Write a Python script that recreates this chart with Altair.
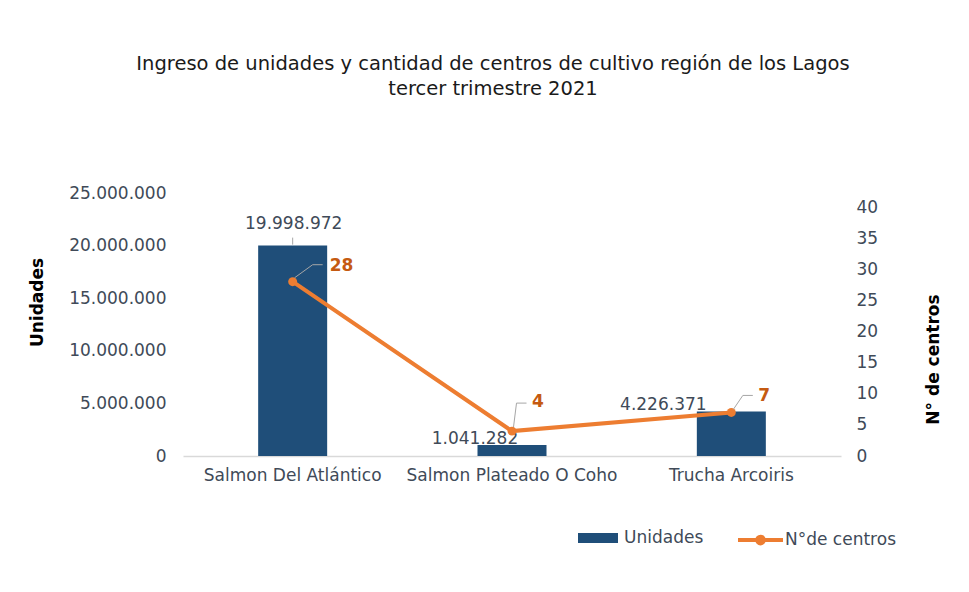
import altair as alt
import pandas as pd

# ---- data ----
especies = ["Salmon Del Atlántico", "Salmon Plateado O Coho", "Trucha Arcoiris"]
unidades = [19998972, 1041282, 4226371]
unidades_txt = ["19.998.972", "1.041.282", "4.226.371"]
centros = [28, 4, 7]
left_ticks = [0, 5000000, 10000000, 15000000, 20000000, 25000000]
right_ticks = [0, 5, 10, 15, 20, 25, 30, 35, 40]
titulo = ["Ingreso de unidades y cantidad de centros de cultivo región de los Lagos",
          "tercer trimestre 2021"]

df = pd.DataFrame({
    "especie": especies,
    "unidades": unidades,
    "u_txt": unidades_txt,
    "centros": centros,
    "serie_u": ["Unidades"] * 3,
    "serie_c": ["N°de centros"] * 3,
})

# ---- styles ----
FONT = "DejaVu Sans"
BLUE = "#1F4E79"
ORANGE = "#ED7D31"
ORANGE_TXT = "#C55A11"
TXT = "#404A58"
LEADER = "#A6A6A6"

# label placement (pixel offsets, style only)
bar_lab_off = {especies[0]: (1, -22), especies[1]: (-37, -6), especies[2]: (-68, -7)}
cen_lab_off = {especies[0]: (37, -16), especies[1]: (20, -29), especies[2]: (27, -16)}
cen_leaders = {
    especies[0]: [(2, -4), (20, -17), (30, -17)],
    especies[1]: [(1.5, -4), (4.5, -28), (14.5, -28)],
    especies[2]: [(2, -3), (11.5, -17), (21.5, -17)],
}

base = alt.Chart(df)
x_enc = alt.X("especie:N", sort=especies, bandPosition=0.5,
              scale=alt.Scale(paddingInner=0, paddingOuter=0),
              axis=alt.Axis(title=None, labelAngle=0, labelFontSize=17, labelFont=FONT,
                            labelColor=TXT, labelPadding=11, ticks=False, labelLimit=0,
                            domain=True, domainColor="#D9D9D9", domainWidth=1.5, grid=False))
x2_enc = alt.X2("especie", bandPosition=0.5)

yL = alt.Y("unidades:Q",
           scale=alt.Scale(domain=[0, 25000000], nice=False, zero=True),
           axis=alt.Axis(values=left_ticks, title="Unidades", orient="left",
                         labelExpr="replace(format(datum.value, ','), regexp(',', 'g'), '.')",
                         labelFontSize=17, labelFont=FONT, labelColor=TXT, labelPadding=17,
                         labelOverlap=False, labelLimit=0,
                         ticks=False, domain=False, grid=False,
                         titleFont=FONT, titleFontSize=17, titleFontWeight="bold", titleColor="#000000",
                         titleAngle=270, titleAlign="center", titleBaseline="middle",
                         titleX=-146, titleY=109))

yR = alt.Y("centros:Q",
           scale=alt.Scale(domain=[0, 42.25], nice=False, zero=True),
           axis=alt.Axis(values=right_ticks, title="N° de centros", orient="right",
                         labelFontSize=17, labelFont=FONT, labelColor=TXT, labelPadding=15,
                         labelOverlap=False, labelLimit=0,
                         ticks=False, domain=False, grid=False,
                         titleFont=FONT, titleFontSize=17, titleFontWeight="bold", titleColor="#000000",
                         titleAngle=270, titleAlign="center", titleBaseline="middle",
                         titleX=92, titleY=166))

bars = base.mark_bar(size=69).encode(
    x=x_enc, y=yL,
    fill=alt.Fill("serie_u:N", scale=alt.Scale(range=[BLUE]),
                  legend=alt.Legend(title=None, orient="none", legendX=395, legendY=325,
                                    symbolType="M-1,-0.25H1V0.25H-1Z", symbolSize=1600,
                                    symbolStrokeWidth=0, labelOffset=6, padding=0,
                                    labelFont=FONT, labelFontSize=17, labelColor=TXT)),
)

left_layers = [bars]
for cat in especies:
    dx, dy = bar_lab_off[cat]
    left_layers.append(
        base.transform_filter(alt.datum.especie == cat)
        .mark_text(font=FONT, fontSize=17, color=TXT, align="center", baseline="middle", dx=dx, dy=dy)
        .encode(x=x_enc, y=yL, text="u_txt:N")
    )
# small leader above first bar
left_layers.append(
    base.transform_filter(alt.datum.especie == especies[0])
    .mark_rule(color=LEADER, strokeWidth=1, yOffset=-8, y2Offset=-1)
    .encode(x=x_enc, x2=x2_enc, y=yL, y2=alt.Y2("unidades"))
)

line = base.mark_line(strokeWidth=4, color=ORANGE).encode(
    x=x_enc, y=yR,
    stroke=alt.Stroke("serie_c:N", scale=alt.Scale(range=[ORANGE]),
                      legend=alt.Legend(title=None, orient="none", legendX=553, legendY=322.5,
                                        symbolType="M-1,0H1M-0.15,0A0.15,0.15,0,1,1,0.15,0A0.15,0.15,0,1,1,-0.15,0Z",
                                        symbolSize=2025, symbolStrokeWidth=4,
                                        symbolFillColor=ORANGE, labelOffset=0, padding=0,
                                        labelFont=FONT, labelFontSize=17, labelColor=TXT)),
)
points = base.mark_circle(size=80, color=ORANGE, opacity=1).encode(x=x_enc, y=yR)

right_layers = [line, points]
for cat in especies:
    pts = cen_leaders[cat]
    for (ax, ay), (bx, by) in zip(pts[:-1], pts[1:]):
        right_layers.append(
            base.transform_filter(alt.datum.especie == cat)
            .mark_rule(color=LEADER, strokeWidth=1, xOffset=ax, yOffset=ay, x2Offset=bx, y2Offset=by)
            .encode(x=x_enc, x2=x2_enc, y=yR, y2=alt.Y2("centros"))
        )
    dx, dy = cen_lab_off[cat]
    right_layers.append(
        base.transform_filter(alt.datum.especie == cat)
        .mark_text(font=FONT, fontSize=17, fontWeight="bold", color=ORANGE_TXT,
                   align="left", baseline="middle", dx=dx, dy=dy)
        .encode(x=x_enc, y=yR, text="centros:Q")
    )

chart = alt.layer(alt.layer(*left_layers), alt.layer(*right_layers)).resolve_scale(
    y="independent"
).properties(
    width=658, height=263,
    background="white",
    autosize=alt.AutoSizeParams(type="none"),
    padding={"left": 175, "top": 185, "right": 120, "bottom": 128},
    title=alt.TitleParams(text=titulo, font=FONT, fontSize=19.5, fontWeight="normal",
                          color="#1A1A1A", anchor="middle", frame="group", dx=-19,
                          offset=85, lineHeight=25),
).configure_view(stroke="transparent", strokeWidth=0).configure_axis(
    labelOverlap=False, grid=False
)

chart.save("out.html", embed_options={"renderer": "svg", "actions": False})
